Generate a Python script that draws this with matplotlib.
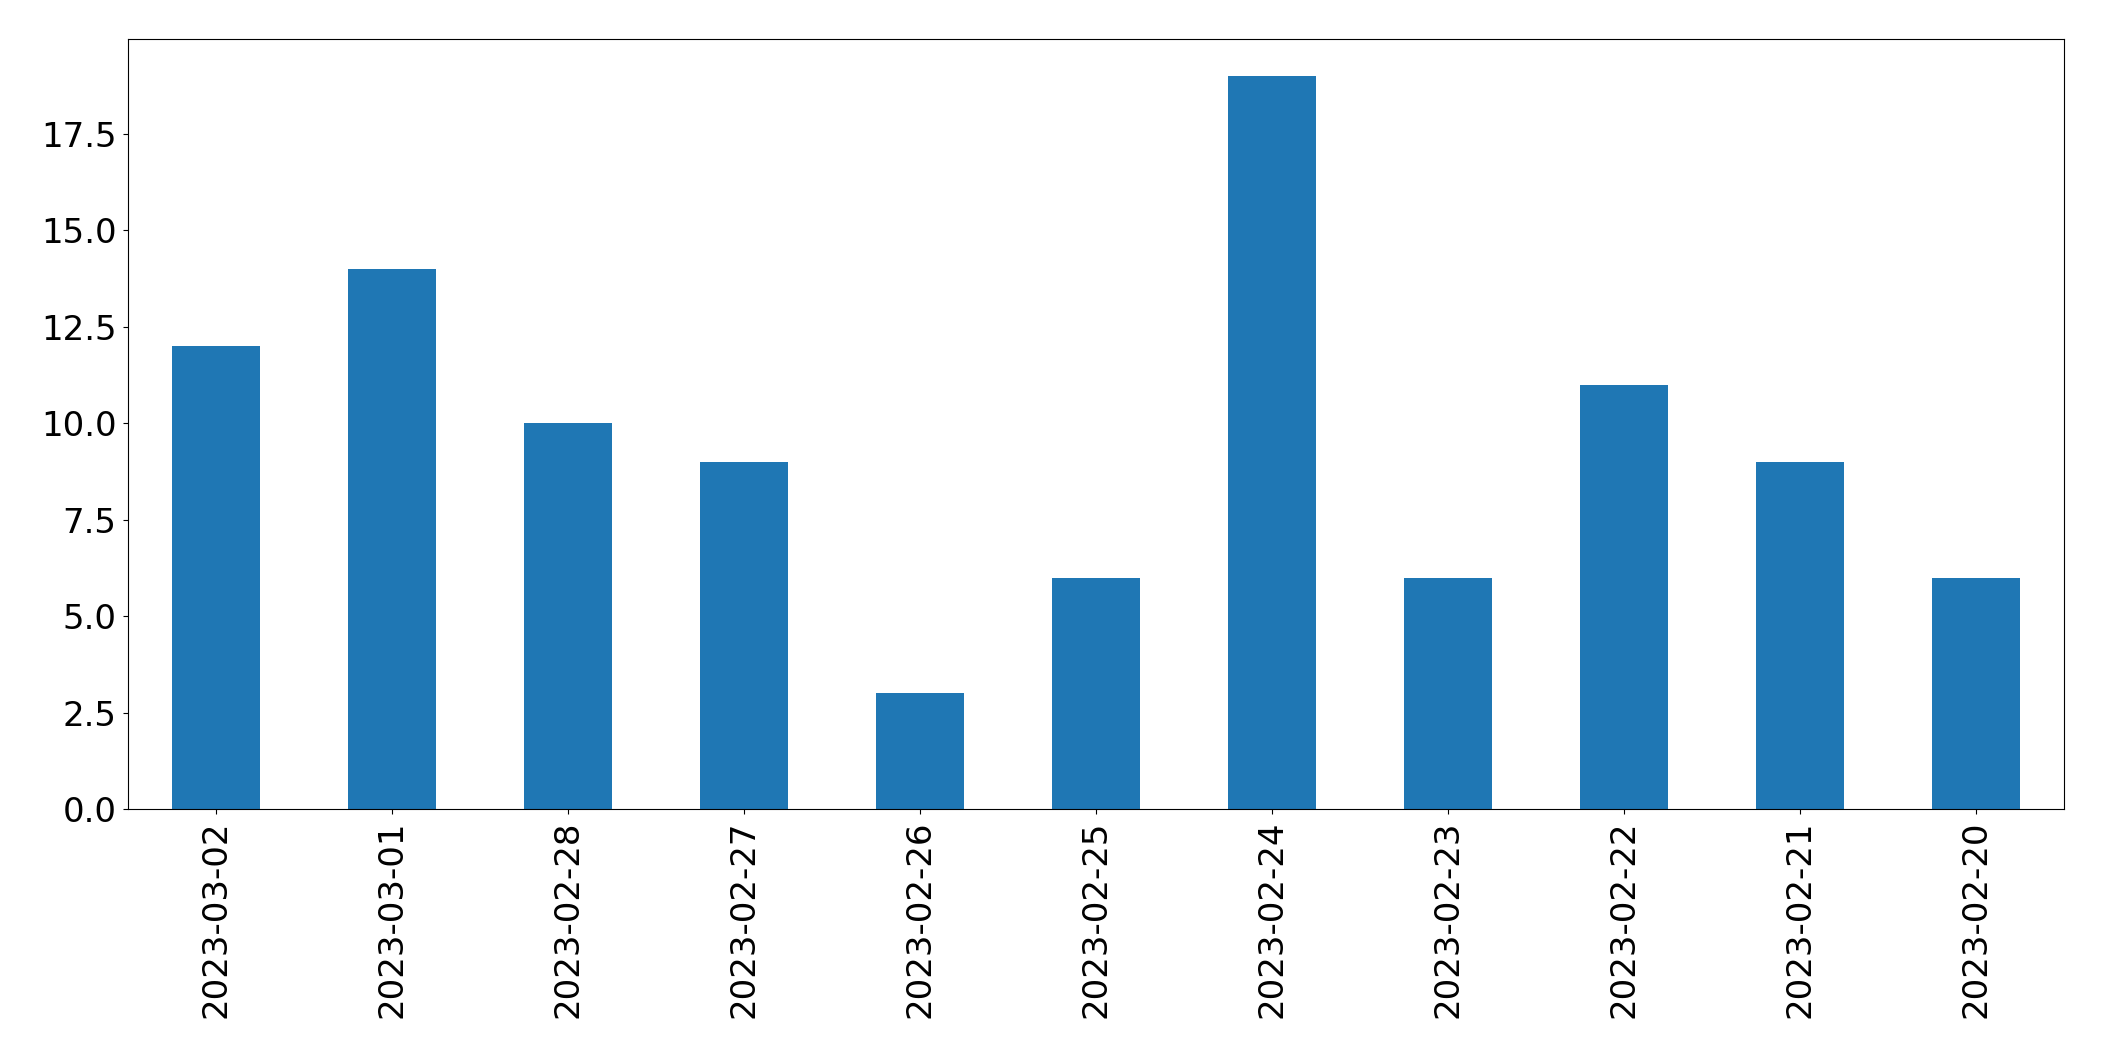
import pandas as pd
import matplotlib
matplotlib.use("Agg")
import matplotlib.pyplot as plt

dates = ['2023-03-02', '2023-03-01', '2023-02-28', '2023-02-27', '2023-02-26',
         '2023-02-25', '2023-02-24', '2023-02-23', '2023-02-22', '2023-02-21',
         '2023-02-20']
counts = [12, 14, 10, 9, 3, 6, 19, 6, 11, 9, 6]

s = pd.Series(counts, index=dates)

fig = plt.figure(figsize=(21.04, 10.61), dpi=100)
ax = fig.add_axes([0.0606, 0.2375, 0.9204, 0.7255])
s.plot(kind='bar', ax=ax, color='#1f77b4')
ax.tick_params(axis='both', labelsize=24.5, pad=4.5)
ax.set_xticklabels(dates, rotation=90)

fig.savefig("out.png", dpi=100)
